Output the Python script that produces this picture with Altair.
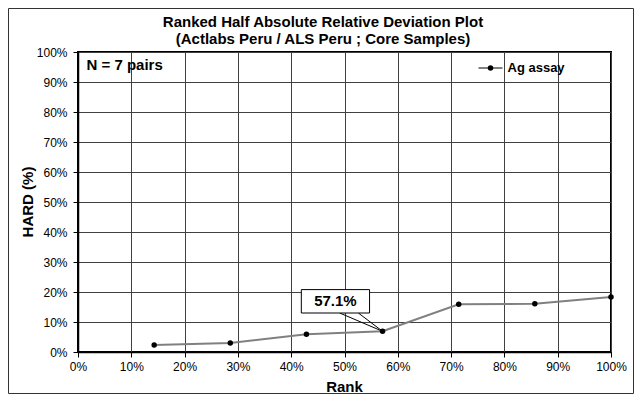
import altair as alt
import pandas as pd

# ---- data ----
rank_pct = [14.29, 28.57, 42.86, 57.14, 71.43, 85.71, 100.0]
hard_pct = [2.3, 3.0, 5.9, 6.9, 15.9, 16.1, 18.3]
series_name = "Ag assay"
title_lines = ["Ranked Half Absolute Relative Deviation Plot",
               "(Actlabs Peru / ALS Peru ; Core Samples)"]
n_label = "N = 7 pairs"
x_title = "Rank"
y_title = "HARD (%)"
x_ticks = list(range(0, 101, 10))
y_ticks = list(range(0, 101, 10))
callout_index = 3

df = pd.DataFrame({"x": rank_pct, "y": hard_pct})

FONT = "Liberation Sans"
W, H = 533, 300
PAD = {"left": 70, "top": 44, "right": 23, "bottom": 42}

xs = alt.Scale(domain=[0, 100], nice=False, zero=False)
ys = alt.Scale(domain=[0, 100], nice=False, zero=False)

x_axis = alt.Axis(values=x_ticks, labelExpr="datum.value + '%'", title=None,
                  grid=True, gridColor="#404040", gridWidth=1,
                  domainColor="black", domainWidth=1.5, tickColor="black",
                  tickSize=5, labelFont=FONT, labelFontSize=12,
                  labelColor="black", labelPadding=4, labelFlush=False)
y_axis = alt.Axis(values=y_ticks, labelExpr="datum.value + '%'", title=None,
                  grid=True, gridColor="#404040", gridWidth=1,
                  domainColor="black", domainWidth=1.5, tickColor="black",
                  tickSize=5, labelFont=FONT, labelFontSize=12,
                  labelColor="black", labelPadding=6)


def X(field="x"):
    return alt.X(f"{field}:Q", scale=xs, axis=x_axis)


def Y(field="y"):
    return alt.Y(f"{field}:Q", scale=ys, axis=y_axis)


one = pd.DataFrame({"a": [0]})

frame = alt.Chart(one).mark_rect(filled=False, fillOpacity=0, stroke="#333333",
                                 strokeWidth=1).encode(
    x=alt.value(-69.5), x2=alt.value(555.5), y=alt.value(-43.5), y2=alt.value(341.5))

line = alt.Chart(df).mark_line(color="#808080", strokeWidth=2).encode(x=X(), y=Y())
pts = alt.Chart(df).mark_circle(color="black", size=30, opacity=1).encode(x=X(), y=Y())

# callout for the highlighted point
cx, cy = rank_pct[callout_index], hard_pct[callout_index]
pointer = pd.DataFrame({"x": [49.1, cx, 52.6], "y": [13.0, cy, 13.0], "o": [0, 1, 2]})
box = pd.DataFrame({"x": [41.9], "x2": [54.7], "y": [13.0], "y2": [20.8]})
lbl = pd.DataFrame({"x": [48.3], "y": [16.9], "t": [f"{cx:.1f}%"]})

ptr = alt.Chart(pointer).mark_line(color="black", strokeWidth=1).encode(
    x=X(), y=Y(), order="o:Q")
boxm = alt.Chart(box).mark_rect(fill="white", stroke="black", strokeWidth=1).encode(
    x=X(), x2="x2:Q", y=Y(), y2="y2:Q")
lblm = alt.Chart(lbl).mark_text(font=FONT, fontSize=15, fontWeight="bold",
                                color="black", baseline="middle").encode(
    x=X(), y=Y(), text="t:N")


def txt(s, x, y, size, align="center", angle=0):
    return alt.Chart(one).mark_text(text=s, font=FONT, fontSize=size, fontWeight="bold",
                                    color="black", align=align, baseline="middle",
                                    angle=angle).encode(x=alt.value(x), y=alt.value(y))


t1 = txt(title_lines[0], 245, -30, 15)
t2 = txt(title_lines[1], 245, -13, 15)
xt = txt(x_title, 266.5, 335, 15)
yt = txt(y_title, -50, 150, 15, angle=270)
nl = txt(n_label, 8.5, 13, 15, align="left")

leg_line = alt.Chart(one).mark_rule(color="#808080", strokeWidth=2).encode(
    x=alt.value(400.5), x2=alt.value(424.5), y=alt.value(16))
leg_dot = alt.Chart(one).mark_circle(color="black", size=30, opacity=1).encode(
    x=alt.value(412.5), y=alt.value(16))
leg_txt = txt(series_name, 429.5, 16, 13, align="left")

chart = alt.layer(
    frame, line, pts, ptr, boxm, lblm, t1, t2, xt, yt, nl, leg_line, leg_dot, leg_txt
).properties(
    width=W, height=H, padding=PAD,
    autosize=alt.AutoSizeParams(type="none"),
    background="white",
).configure_view(stroke="black", strokeWidth=2)

chart.save("out.html", embed_options={"renderer": "svg", "actions": False})
